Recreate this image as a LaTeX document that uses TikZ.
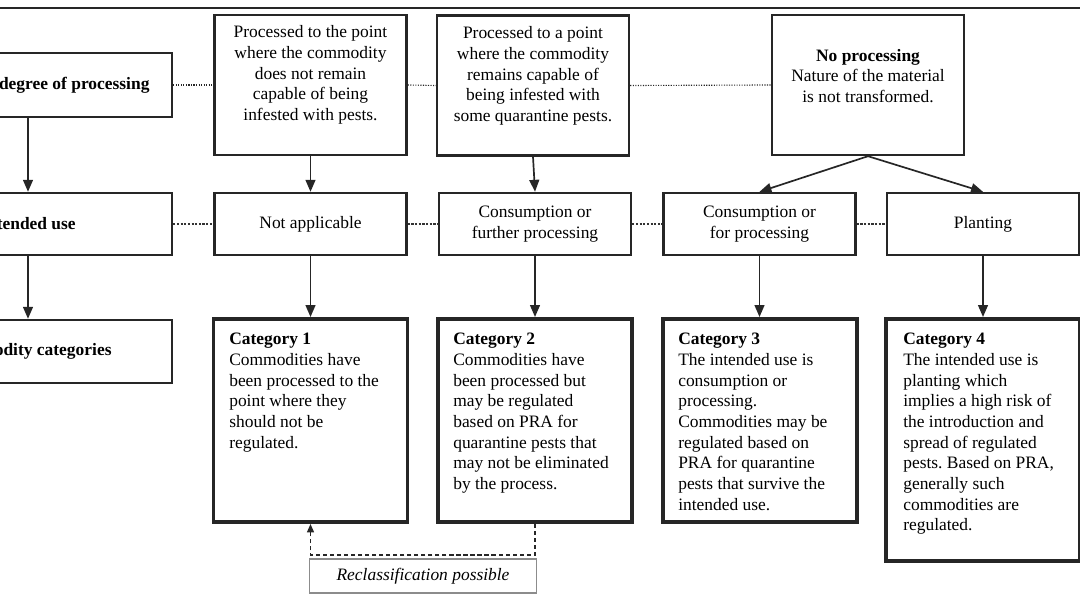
\documentclass[tikz,border=0pt]{standalone}
\usepackage{fontspec}
\setmainfont{Liberation Serif}
\usepackage{xcolor}
\usetikzlibrary{arrows.meta}

\newcommand{\diagfont}{\fontsize{12.4}{14.7}\selectfont}
\frenchspacing

\begin{document}
\begin{tikzpicture}[x=0.025cm, y=-0.025cm,
    every node/.style={font=\diagfont, inner sep=0pt},
    box/.style={draw=black!85, line width=1.7pt},
    catbox/.style={draw=black!85, line width=2.8pt, minimum width=4.85cm},
    flow/.style={draw=black!85, line width=1.2pt, -{Triangle[length=8.5pt,width=7pt]}},
    link/.style={black!85, line width=0.8pt, densely dotted},
    thicklink/.style={black!80, line width=1.6pt, densely dotted}]
    \useasboundingbox (0,0) rectangle (1080,596);
    \clip (0,0) rectangle (1080,596);
    \draw[black!85, line width=1.3pt] (0,8) -- (1080,8);

    % row headings
    \node[box, minimum width=7.2cm, minimum height=1.6cm, font=\diagfont\bfseries] (lproc) at (28,85) {Commodity degree of processing};
    \node[box, minimum width=7.2cm, minimum height=1.55cm, font=\diagfont\bfseries] (luse) at (28,224) {Intended use};
    \node[box, minimum width=7.2cm, minimum height=1.575cm, font=\diagfont\bfseries] (lcat) at (28,351.5) {Commodity categories};

    % degree of processing
    \node[box, minimum width=4.8cm, minimum height=3.5cm] (p1) at (310.5,85) {};
    \node[align=center] (p1t) at (310.5,75) {Processed to the point\\where the commodity\\does not remain\\capable of being\\infested with pests.};
    \node[box, minimum width=4.8cm, minimum height=3.5cm] (p2) at (533,85.5) {};
    \node[align=center] (p2t) at (533,76) {Processed to a point\\where the commodity\\remains capable of\\being infested with\\some quarantine pests.};
    \node[box, minimum width=4.8cm, minimum height=3.5cm] (p3) at (868,85) {};
    \node[align=center] (p3t) at (868,76) {\textbf{No processing}\\Nature of the material\\is not transformed.};

    % intended use
    \node[box, minimum width=4.8cm, minimum height=1.55cm] (na) at (310.5,224) {Not applicable};
    \node[box, minimum width=4.8cm, minimum height=1.55cm, align=center] (cf) at (535,224) {Consumption or\\further processing};
    \node[box, minimum width=4.8cm, minimum height=1.55cm, align=center] (cp) at (759.5,224) {Consumption or\\for processing};
    \node[box, minimum width=4.8cm, minimum height=1.55cm] (pl) at (983,224) {Planting};

    % categories
    \node[catbox, minimum height=5.075cm] (c1) at (310.5,420.5) {};
    \node[catbox, minimum height=5.075cm] (c2) at (535,420.5) {};
    \node[catbox, minimum height=5.075cm] (c3) at (760,420.5) {};
    \node[catbox, minimum height=6.05cm] (c4) at (983,440) {};
    \node[anchor=north west, align=left] (c1t) at (229,333) {\textbf{Category 1}\\Commodities have\\been processed to the\\point where they\\should not be\\regulated.};
    \node[anchor=north west, align=left] (c2t) at (453,333) {\textbf{Category 2}\\Commodities have\\been processed but\\may be regulated\\based on PRA for\\quarantine pests that\\may not be eliminated\\by the process.};
    \node[anchor=north west, align=left] (c3t) at (678,333) {\textbf{Category 3}\\The intended use is\\consumption or\\processing.\\Commodities may be\\regulated based on\\PRA for quarantine\\pests that survive the\\intended use.};
    \node[anchor=north west, align=left] (c4t) at (903,333) {\textbf{Category 4}\\The intended use is\\planting which\\implies a high risk of\\the introduction and\\spread of regulated\\pests. Based on PRA,\\generally such\\commodities are\\regulated.};

    \node[draw=black!45, line width=1.3pt, minimum width=5.675cm, minimum height=0.85cm, font=\diagfont\itshape] (recl) at (423,576) {Reclassification possible};

    % dotted rows
    \draw[link] (lproc.east) -- (p1.west);
    \draw[link] (p1.east) -- (p2.west);
    \draw[link] (p2.east) -- (p3.west);
    \draw[thicklink] (luse.east) -- (na.west);
    \draw[thicklink] (na.east) -- (cf.west);
    \draw[thicklink] (cf.east) -- (cp.west);
    \draw[thicklink] (cp.east) -- (pl.west);

    % arrows
    \draw[flow] (lproc) -- (luse);
    \draw[flow] (luse) -- (lcat);
    \draw[flow] (p1.south) -- (na.north);
    \draw[flow] (p2.south) -- (cf.north);
    \draw[flow] (p3.south) -- (cp.north);
    \draw[flow] (p3.south) -- (pl.north);
    \draw[flow] (na) -- (c1);
    \draw[flow] (cf) -- (c2);
    \draw[flow] (cp.south) -- (c3.north -| cp.south);
    \draw[flow] (pl) -- (c4);
    \draw[black!85, line width=1pt, dash pattern=on 3pt off 2pt, -{Triangle[length=6pt,width=5pt]}] (c2.south) -- ++(0,31) -| (c1.south);
\end{tikzpicture}
\end{document}
